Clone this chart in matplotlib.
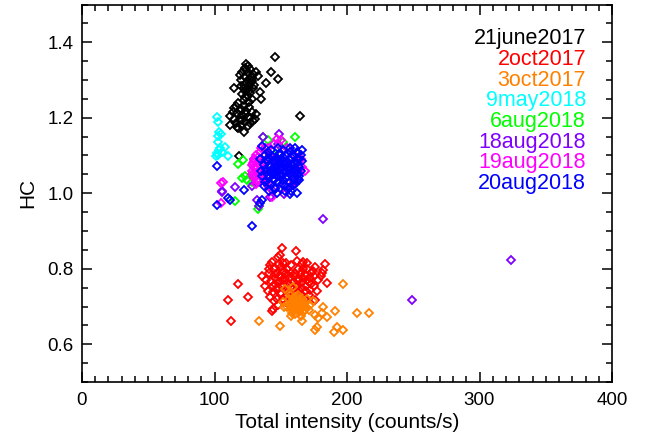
import matplotlib
matplotlib.use("Agg")
import matplotlib.pyplot as plt
from matplotlib.ticker import MultipleLocator

plt.rcParams['font.family'] = ['Liberation Sans', 'DejaVu Sans']

labels = ["21june2017", "2oct2017", "3oct2017", "9may2018", "6aug2018",
          "18aug2018", "19aug2018", "20aug2018"]
colors = ["#000000", "#FF0000", "#FF8000", "#00FFFF", "#00FF00",
          "#8000FF", "#FF00FF", "#0000FF"]

jun21_x = [124, 125.5, 123, 127, 121, 125, 129, 131, 123, 126, 128, 120, 124, 122, 126, 129, 125, 123, 127, 121,
           125, 130, 133, 134.5, 135, 128, 145.3, 142.7, 148.1, 139, 114.5, 164.7, 118.3,
           118, 122, 126, 120, 114.5, 124, 128, 117, 121, 125, 130.2, 112, 115, 119, 123, 127, 116, 111.4, 120,
           125, 118, 122.4, 129, 131, 114, 126, 122,
           119, 127, 124, 126, 122, 128, 120, 123, 116, 119, 124, 121, 127, 117]
jun21_y = [1.342, 1.338, 1.333, 1.328, 1.322, 1.318, 1.315, 1.320, 1.308, 1.303, 1.298, 1.300, 1.293, 1.287, 1.283,
           1.279, 1.275, 1.270, 1.266, 1.262, 1.258, 1.288, 1.310, 1.268, 1.249, 1.250, 1.362, 1.320, 1.303, 1.291,
           1.280, 1.204, 1.098,
           1.238, 1.232, 1.228, 1.222, 1.225, 1.218, 1.214, 1.212, 1.207, 1.203, 1.198, 1.205, 1.198, 1.195, 1.190,
           1.186, 1.186, 1.181, 1.180, 1.177, 1.172, 1.163, 1.192, 1.210, 1.215, 1.243, 1.248,
           1.312, 1.292, 1.326, 1.270, 1.278, 1.306, 1.285, 1.255, 1.230, 1.218, 1.210, 1.193, 1.200, 1.176]

oct2_x = [150.7, 161.5, 149.2, 148.2, 143.2, 141.9, 167, 166, 183.4, 182.1, 180.9, 135.6, 117.9, 184.6, 138.1,
          110.4, 125.5, 144.4, 143.2, 112.2, 175.8,
          145, 147, 150, 152, 155, 158, 160, 163, 165, 168, 170, 172, 175, 178, 146, 149, 153, 156, 159, 162, 166,
          169, 172, 175, 144, 147, 150, 153, 157, 161, 165, 168, 171, 140, 142, 145, 148, 152, 155, 160, 139, 141,
          152, 158, 162, 170, 176, 174, 180, 177, 147, 151, 164,
          146, 149, 154, 157, 161, 164, 167, 171, 173, 148, 151, 155, 159, 163, 166, 143, 146, 150, 154, 158,
          162, 169, 173, 141, 144, 149, 156, 167, 170, 154]
oct2_y = [0.855, 0.848, 0.837, 0.830, 0.819, 0.810, 0.819, 0.812, 0.813, 0.797, 0.790, 0.781, 0.760, 0.763, 0.754,
          0.716, 0.726, 0.693, 0.689, 0.662, 0.717,
          0.800, 0.790, 0.805, 0.795, 0.800, 0.790, 0.780, 0.800, 0.790, 0.785, 0.800, 0.775, 0.780, 0.770, 0.775,
          0.765, 0.775, 0.760, 0.765, 0.755, 0.765, 0.755, 0.745, 0.755, 0.755, 0.745, 0.735, 0.745, 0.735, 0.740,
          0.730, 0.720, 0.730, 0.740, 0.725, 0.715, 0.705, 0.720, 0.710, 0.720, 0.770, 0.790, 0.815, 0.810, 0.820,
          0.815, 0.805, 0.795, 0.780, 0.740, 0.720, 0.755, 0.745,
          0.785, 0.780, 0.788, 0.775, 0.790, 0.772, 0.800, 0.765, 0.790, 0.752, 0.770, 0.752, 0.748, 0.768, 0.748,
          0.768, 0.760, 0.778, 0.728, 0.722, 0.735, 0.742, 0.760, 0.800, 0.738, 0.812, 0.742, 0.775, 0.770, 0.815]

oct3_x = [196.7, 133.8, 149.4, 165.8, 182.1, 180.9, 175.8, 178.3, 177.1, 175.8, 184.6, 190.9, 207.3, 216.8, 192.2,
          197.2, 190.2, 153, 159.2, 151.5, 152.5, 158.2,
          156, 158, 160, 162, 164, 166, 168, 159, 161, 163, 165, 167, 157, 160, 163, 166, 169, 155, 162, 164, 158,
          170, 172, 171, 174,
          157, 159, 161, 163, 165, 167, 160, 162, 164, 166, 158, 168]
oct3_y = [0.760, 0.662, 0.648, 0.662, 0.698, 0.684, 0.678, 0.669, 0.647, 0.638, 0.672, 0.689, 0.684, 0.684, 0.647,
          0.638, 0.633, 0.746, 0.751, 0.713, 0.698, 0.682,
          0.720, 0.710, 0.700, 0.715, 0.705, 0.695, 0.710, 0.690, 0.680, 0.690, 0.675, 0.685, 0.730, 0.725, 0.730,
          0.720, 0.700, 0.700, 0.700, 0.720, 0.675, 0.720, 0.705, 0.690, 0.715,
          0.705, 0.718, 0.708, 0.698, 0.712, 0.700, 0.690, 0.725, 0.685, 0.708, 0.695, 0.692]

may9_x = [101.6, 102.4, 103.4, 104.9, 102.9, 102.4, 107.9, 103.4, 101.6, 105.4, 102.9, 110, 104, 101]
may9_y = [1.201, 1.190, 1.163, 1.157, 1.152, 1.137, 1.123, 1.115, 1.106, 1.110, 1.101, 1.099, 1.120, 1.098]

aug6_x = [136.5, 160.8, 151.9, 121.8, 118, 123, 120.5, 124.3, 115.5, 132.6, 133.5, 140, 145, 130, 128, 155]
aug6_y = [1.148, 1.150, 1.137, 1.088, 1.077, 1.046, 1.040, 1.035, 0.980, 0.957, 0.965, 1.142, 1.100, 1.050,
          1.030, 1.120]

aug18_x = [324, 249.4, 182, 105.5, 115.3, 132.4, 148.4, 136.4, 152.2, 144.2, 133.8, 106, 138, 155, 160, 145, 130,
           148, 128, 142]
aug18_y = [0.822, 0.716, 0.933, 1.006, 1.017, 0.981, 1.158, 1.150, 0.999, 1.006, 0.965, 1.004, 1.120, 1.080,
           1.030, 1.050, 1.090, 1.130, 1.020, 0.990]

aug19_x = [105, 105, 143.3, 147.5, 166.3, 106.6, 128, 129, 130, 131, 132, 128.5, 130, 133, 134, 135, 136, 131,
           133, 129.5, 137, 138, 140, 145, 150, 155, 160, 165, 162, 158, 150, 140, 135, 142, 147, 152,
           129, 131, 133, 135, 130, 132, 134, 136, 128, 137, 139, 141, 168]
aug19_y = [1.027, 0.975, 0.990, 1.145, 1.070, 1.031, 1.060, 1.080, 1.040, 1.100, 1.070, 1.050, 1.090, 1.030,
           1.110, 1.060, 1.080, 1.025, 1.095, 1.070, 1.040, 1.100, 1.120, 1.130, 1.140, 1.120, 1.100, 1.090,
           1.050, 1.020, 1.010, 1.020, 1.120, 1.100, 1.080, 1.060,
           1.045, 1.065, 1.055, 1.090, 1.085, 1.035, 1.075, 1.050, 1.075, 1.065, 1.030, 1.090, 1.060]

aug20_x = [101.6, 101.6, 110.4, 112, 122.4, 128.6, 156.9, 145.9, 135.8, 134.3, 135.6, 157, 163,
           138, 140, 142, 139, 141, 143, 144, 146, 145, 147, 148, 146, 149, 150, 151, 150, 152, 153, 154, 155,
           156, 155, 157, 156, 158, 159, 160, 159, 161, 162, 163, 164, 163, 165, 164, 137, 136, 138, 140, 143,
           148, 152, 157, 161, 166, 135, 137, 141, 147, 153, 158, 162, 134, 144, 149, 154, 158, 162, 166, 139,
           151, 145, 160, 142, 153, 147,
           140, 143, 145, 148, 150, 152, 155, 157, 160, 162, 164, 141, 144, 147, 149, 152, 154, 157, 159, 161,
           163, 165, 139, 142, 146, 150, 153, 156, 159, 164]
aug20_y = [1.072, 0.970, 0.987, 0.982, 1.008, 0.912, 0.998, 1.012, 0.982, 0.975, 1.125, 1.120, 1.106,
           1.100, 1.085, 1.070, 1.055, 1.040, 1.025, 1.095, 1.080, 1.060, 1.045, 1.030, 1.015, 1.105, 1.090,
           1.070, 1.050, 1.035, 1.020, 1.100, 1.080, 1.060, 1.045, 1.030, 1.015, 1.095, 1.075, 1.055, 1.040,
           1.025, 1.110, 1.090, 1.070, 1.050, 1.100, 1.035, 1.075, 1.045, 1.030, 1.110, 1.115, 1.120, 1.115,
           1.110, 1.120, 1.115, 1.060, 1.020, 1.005, 1.000, 1.005, 1.005, 1.000, 1.090, 1.050, 1.065, 1.055,
           1.065, 1.080, 1.085, 1.065, 1.025, 1.035, 1.035, 1.055, 1.075, 1.090,
           1.048, 1.062, 1.088, 1.072, 1.042, 1.082, 1.068, 1.088, 1.080, 1.060, 1.092, 1.028, 1.038, 1.058,
           1.080, 1.095, 1.040, 1.052, 1.102, 1.068, 1.038, 1.058, 1.088, 1.092, 1.070, 1.105, 1.060, 1.070,
           1.022, 1.045]

series_x = [jun21_x, oct2_x, oct3_x, may9_x, aug6_x, aug18_x, aug19_x, aug20_x]
series_y = [jun21_y, oct2_y, oct3_y, may9_y, aug6_y, aug18_y, aug19_y, aug20_y]

fig = plt.figure(figsize=(6.54, 4.38), dpi=100)
ax = fig.add_axes([82 / 654, 1 - 382 / 438, 530 / 654, 377.5 / 438])

for xs, ys, c in zip(series_x, series_y, colors):
    ax.plot(xs, ys, linestyle='none', marker='D', markersize=4.3, markerfacecolor='none',
            markeredgecolor=c, markeredgewidth=1.3)

ax.set_xlim(0, 400)
ax.set_ylim(0.5, 1.5)
ax.xaxis.set_major_locator(MultipleLocator(100))
ax.xaxis.set_minor_locator(MultipleLocator(10))
ax.yaxis.set_major_locator(MultipleLocator(0.2))
ax.yaxis.set_minor_locator(MultipleLocator(0.05))
ax.yaxis.set_major_formatter(plt.FuncFormatter(lambda v, p: f"{v:.1f}"))
ax.tick_params(which='both', direction='in', top=True, right=True, width=1.1, labelsize=13.5)
ax.tick_params(axis='x', pad=7)
ax.tick_params(axis='y', pad=6)
ax.tick_params(which='major', length=7.5)
ax.tick_params(which='minor', length=4)
for s in ax.spines.values():
    s.set_linewidth(1.2)

ax.set_xlabel("Total intensity (counts/s)", fontsize=15, labelpad=3)
ax.set_ylabel("HC", fontsize=15, labelpad=7)

for i, (lab, c) in enumerate(zip(labels, colors)):
    ax.text(0.951, 0.909 - i * 0.0548, lab, color=c, fontsize=15.5, ha='right', va='center',
            transform=ax.transAxes)

fig.savefig("out.png", dpi=100)
